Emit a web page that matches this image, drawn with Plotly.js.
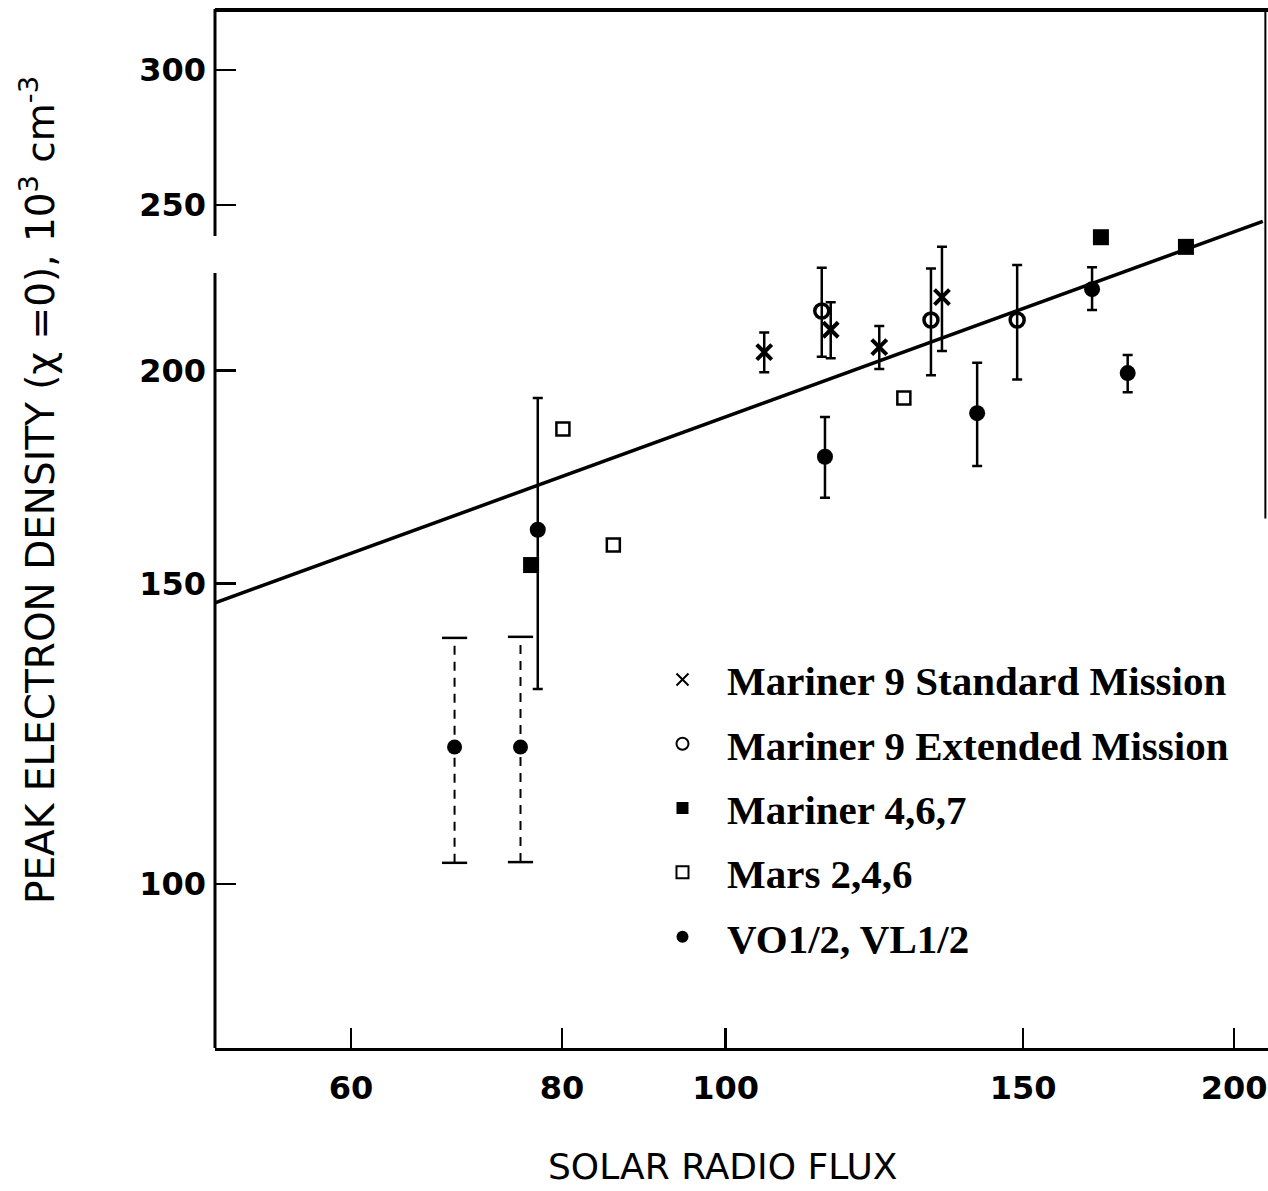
<!DOCTYPE html>
<html>
<head>
<meta charset="utf-8">
<script src="https://cdn.plot.ly/plotly-3.0.1.min.js"></script>
<style>
  html, body { margin: 0; padding: 0; background: #fff; }
  #chart { width: 1268px; height: 1191px; }
</style>
</head>
<body>
<div id="chart"></div>
<script>
// ---- data ----
const xTickVals = [60, 80, 100, 150, 200];
const xTickText = ['60', '80', '100', '150', '200'];
const yTickVals = [100, 150, 200, 250, 300];
const yTickText = ['100', '150', '200', '250', '300'];

const m9StdX = [105.4, 115.4, 123.3, 134.3];
const m9StdY = [205.0, 211.3, 206.4, 220.8];
const m9StdErr = [5.5, 8.0, 6.0, 15.5];

const m9ExtX = [114.0, 132.3, 148.8];
const m9ExtY = [216.7, 214.1, 214.1];
const m9ExtErr = [13.0, 15.4, 16.5];

const m467X = [76.7, 166.8, 187.3];
const m467Y = [153.8, 239.4, 236.3];

const marsX = [80.1, 85.8, 127.5];
const marsY = [184.8, 158.0, 192.7];

const voX = [77.4, 114.5, 140.9, 164.8, 173.0];
const voY = [161.3, 178.0, 188.8, 223.2, 199.3];
const voErrPlus = [31.4, 9.8, 13.3, 6.7, 4.9];
const voErrMinus = [31.2, 9.6, 13.0, 6.2, 5.1];

const voDashX = [69.1, 75.6];
const voDashY = [120.3, 120.3];
const voDashHi = [139.4, 139.6];
const voDashLo = [102.9, 103.0];

const fitX = [49.8, 208.0];
const fitY = [146.1, 244.6];

const names = ['Mariner 9 Standard Mission', 'Mariner 9 Extended Mission',
               'Mariner 4,6,7', 'Mars 2,4,6', 'VO1/2, VL1/2'];

// ---- build traces ----
const K = '#000';
function errBars(plus, minus) {
  return { type: 'data', symmetric: minus ? false : true, array: plus,
           arrayminus: minus || undefined, color: K, thickness: 2.5, width: 5 };
}

const dashLineX = [], dashLineY = [], capX = [], capY = [];
voDashX.forEach((x, i) => {
  dashLineX.push(x, x, null);
  dashLineY.push(voDashLo[i], voDashHi[i], null);
  capX.push(x, x);
  capY.push(voDashLo[i], voDashHi[i]);
});

const traces = [
  { x: fitX, y: fitY, mode: 'lines', line: { color: K, width: 3.5 },
    showlegend: false, hoverinfo: 'skip' },
  { x: dashLineX, y: dashLineY, mode: 'lines', line: { color: K, width: 2, dash: '9px,7px' },
    showlegend: false, hoverinfo: 'skip' },
  { x: capX, y: capY, mode: 'markers',
    marker: { symbol: 'line-ew', size: 18, line: { color: K, width: 2.5 } },
    showlegend: false, hoverinfo: 'skip' },
  { x: voDashX, y: voDashY, mode: 'markers', showlegend: false,
    marker: { symbol: 'circle', size: 15, color: K } },
  { x: m9StdX, y: m9StdY, name: names[0], legendgroup: 'a', mode: 'markers',
    marker: { symbol: 'x-thin-open', size: 15, color: K, line: { color: K, width: 4 } },
    error_y: errBars(m9StdErr) },
  { x: m9ExtX, y: m9ExtY, name: names[1], legendgroup: 'b', mode: 'markers',
    marker: { symbol: 'circle-open', size: 14, color: K, line: { color: K, width: 3.5 } },
    error_y: errBars(m9ExtErr) },
  { x: m467X, y: m467Y, name: names[2], legendgroup: 'c', mode: 'markers',
    marker: { symbol: 'square', size: 16, color: K } },
  { x: marsX, y: marsY, name: names[3], legendgroup: 'd', mode: 'markers',
    marker: { symbol: 'square-open', size: 13, color: K, line: { color: K, width: 2.5 } } },
  { x: voX, y: voY, name: names[4], legendgroup: 'e', mode: 'markers',
    marker: { symbol: 'circle', size: 16, color: K },
    error_y: errBars(voErrPlus, voErrMinus) }
];

const sans = 'DejaVu Sans, sans-serif';

const layout = {
  width: 1268, height: 1191,
  margin: { l: 215, r: 0, t: 10, b: 143, pad: 0 },
  paper_bgcolor: '#fff', plot_bgcolor: '#fff',
  showlegend: true,
  xaxis: {
    type: 'log', range: [1.69763, 2.32113],
    tickvals: xTickVals, ticktext: xTickText,
    ticks: 'inside', ticklen: 20, tickwidth: 2.5, tickcolor: K,
    showline: true, linewidth: 3, linecolor: K,
    showgrid: false, zeroline: false,
    tickfont: { family: sans, size: 32, color: K, weight: 'bold' },
    ticklabelstandoff: 10
  },
  yaxis: {
    type: 'log', range: [1.90387, 2.51231],
    tickvals: yTickVals, ticktext: yTickText,
    ticks: 'inside', ticklen: 21, tickwidth: 2.5, tickcolor: K,
    showline: false, showgrid: false, zeroline: false,
    tickfont: { family: sans, size: 32, color: K, weight: 'bold' },
    ticklabelstandoff: 8
  },
  legend: {
    x: 0.4017, y: 0.387, xanchor: 'left', yanchor: 'top',
    bgcolor: 'rgba(0,0,0,0)', borderwidth: 0, itemwidth: 79,
    traceorder: 'grouped', tracegroupgap: 8, itemsizing: 'constant',
    font: { family: 'Liberation Serif, DejaVu Serif, serif', size: 41, color: K, weight: 'bold' }
  },
  shapes: [
    { type: 'line', xref: 'paper', yref: 'paper', x0: 0, x1: 0, y0: 0, y1: 0.7466,
      line: { color: K, width: 3 } },
    { type: 'line', xref: 'paper', yref: 'paper', x0: 0, x1: 0, y0: 0.7823, y1: 1.001,
      line: { color: K, width: 3 } },
    { type: 'line', xref: 'paper', yref: 'paper', x0: 0, x1: 1, y0: 1, y1: 1,
      line: { color: K, width: 4 } },
    { type: 'line', xref: 'paper', yref: 'paper', x0: 0.9975, x1: 0.9975, y0: 0.51, y1: 1,
      line: { color: K, width: 2 } }
  ],
  annotations: [
    { xref: 'paper', yref: 'paper', x: -0.168, y: 0.5376, xanchor: 'center', yanchor: 'middle',
      textangle: -90, showarrow: false,
      text: 'PEAK ELECTRON DENSITY (χ =0), 10<sup>3</sup> cm<sup>-3</sup>',
      font: { family: sans, size: 39, color: K } },
    { xref: 'paper', yref: 'paper', x: 0.4815, y: -0.1146, xanchor: 'center', yanchor: 'middle',
      showarrow: false, text: 'SOLAR RADIO FLUX',
      font: { family: sans, size: 36, color: K } }
  ]
};

Plotly.newPlot('chart', traces, layout, { displayModeBar: false, staticPlot: true });
</script>
</body>
</html>
